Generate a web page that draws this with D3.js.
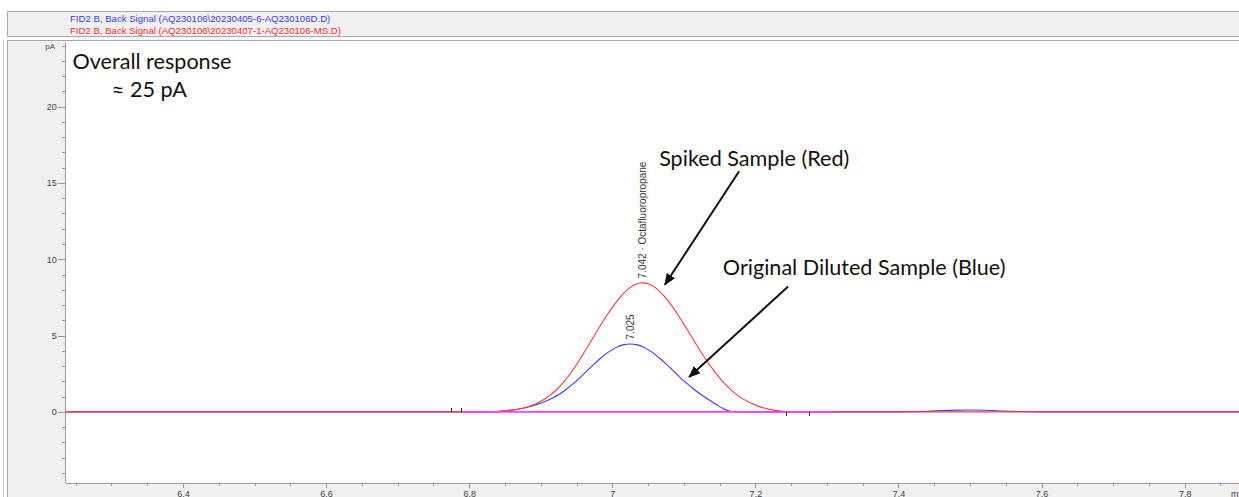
<!DOCTYPE html>
<html>
<head>
<meta charset="utf-8">
<script src="https://cdn.jsdelivr.net/npm/d3@7"></script>
<style>
  body { margin: 0; background: #fff; }
  svg { display: block; }
  .axis path, .axis line { stroke: #9a9a9a; shape-rendering: crispEdges; }
  .axis text { font-family: "Liberation Sans", Arial, sans-serif; font-size: 9px; fill: #444; }
  .legend { font-family: "Liberation Sans", Arial, sans-serif; font-size: 9.6px; }
  .peak-label { font-family: "Liberation Sans", Arial, sans-serif; font-size: 10px; fill: #333; }
  .note { font-family: Lato, "Open Sans", sans-serif; font-size: 21.6px; fill: #111; }
</style>
</head>
<body>
<svg id="chart"></svg>
<script>
// header legend
const legendText = [
  "FID2 B, Back Signal (AQ230106\\20230405-6-AQ230106D.D)",
  "FID2 B, Back Signal (AQ230106\\20230407-1-AQ230106-MS.D)"
];
const legendColor = ["#3b3bff", "#ff2e2e"];

// axis ticks
const xMajorTicks = [6.4, 6.6, 6.8, 7.0, 7.2, 7.4, 7.6, 7.8];
const xTickLabels = ["6.4", "6.6", "6.8", "7", "7.2", "7.4", "7.6", "7.8"];
const yMajorTicks = [0, 5, 10, 15, 20];
const yTickLabels = ["0", "5", "10", "15", "20"];

// blue trace: original diluted sample (min, pA)
const blueTime = [6.236, 6.6, 6.8, 6.835,
  6.845, 6.855, 6.865, 6.875, 6.885, 6.895, 6.905, 6.915, 6.925, 6.935, 6.945,
  6.955, 6.965, 6.975, 6.985, 6.995, 7.005, 7.015, 7.025, 7.035, 7.045, 7.055,
  7.065, 7.075, 7.085, 7.095, 7.105, 7.115, 7.125, 7.135, 7.145, 7.155, 7.165,
  7.18, 7.40, 7.44, 7.47, 7.50, 7.53, 7.56, 7.60, 7.876];
const blueSignal = [0, 0, 0, 0,
  0.06, 0.10, 0.16, 0.24, 0.35, 0.49, 0.67, 0.88, 1.12, 1.45, 1.83,
  2.25, 2.70, 3.15, 3.56, 3.93, 4.21, 4.39, 4.45, 4.39, 4.21, 3.93,
  3.56, 3.15, 2.70, 2.25, 1.83, 1.45, 1.11, 0.80, 0.50, 0.22, 0.04,
  0, 0, 0.03, 0.10, 0.12, 0.09, 0.03, 0, 0];

// red trace: spiked sample (min, pA)
const redTime = [6.236, 6.5, 6.7, 6.82,
  6.832, 6.842, 6.852, 6.862, 6.872, 6.882, 6.892, 6.902, 6.912, 6.922, 6.932,
  6.942, 6.952, 6.962, 6.972, 6.982, 6.992, 7.002, 7.012, 7.022, 7.032, 7.042,
  7.052, 7.062, 7.072, 7.082, 7.092, 7.102, 7.112, 7.122, 7.132, 7.142, 7.152,
  7.162, 7.172, 7.182, 7.192, 7.202, 7.212, 7.222, 7.232,
  7.25, 7.5, 7.7, 7.876];
const redSignal = [0, 0, 0, 0,
  0.02, 0.04, 0.08, 0.13, 0.21, 0.33, 0.50, 0.74, 1.05, 1.45, 1.95,
  2.55, 3.24, 4.00, 4.78, 5.55, 6.30, 6.98, 7.57, 8.04, 8.35, 8.45,
  8.36, 8.08, 7.62, 7.03, 6.35, 5.60, 4.83, 4.07, 3.35, 2.70, 2.12,
  1.62, 1.20, 0.87, 0.61, 0.41, 0.26, 0.15, 0.07,
  0, 0, 0, 0];

// integration baseline and event marks
const baselineTime = [6.791, 7.308];
const baselineSignal = [0, 0];
const eventTime = [6.774, 6.789, 7.2435, 7.275];
const eventSide = [1, 1, -1, -1];

// peak labels
const peakTime = [7.025, 7.042];
const peakHeight = [4.45, 8.45];
const peakLabel = ["7.025", "7.042 \u00b7 Octafluoropropane"];

// annotations (min, pA)
const noteText = ["Overall response", "\u2248 25 pA", "Spiked Sample (Red)", "Original Diluted Sample (Blue)"];
const noteTime = [6.2455, 6.3005, 7.0655, 7.1545];
const noteValue = [22.44, 20.6, 16.14, 8.99];
const arrowFrom = [[7.1773, 15.77], [7.2458, 8.22]];
const arrowTo = [[7.0735, 8.33], [7.1074, 2.28]];

const W = 1239, H = 497;
const plot = { left: 65.7, right: 1239, top: 41, bottom: 482.7 };

const svg = d3.select("#chart").attr("width", W).attr("height", H);

// frames
svg.append("rect").attr("x", 7.5).attr("y", 11.5).attr("width", W).attr("height", 25)
  .attr("fill", "#f0f0f0").attr("stroke", "#a8a8a8");
svg.append("rect").attr("x", 7.5).attr("y", 40.5).attr("width", W).attr("height", H)
  .attr("fill", "#f0f0f0").attr("stroke", "#a8a8a8");
svg.append("line").attr("x1", 3.5).attr("x2", 3.5).attr("y1", 40).attr("y2", H)
  .attr("stroke", "#cfcfcf");
svg.append("rect").attr("x", plot.left).attr("y", plot.top)
  .attr("width", plot.right - plot.left).attr("height", plot.bottom - plot.top)
  .attr("fill", "#fff");

svg.selectAll(".legend").data(legendText).enter().append("text")
  .attr("class", "legend")
  .attr("x", 70).attr("y", (d, i) => 21.5 + i * 12.7)
  .attr("fill", (d, i) => legendColor[i])
  .text(d => d);

const x = d3.scaleLinear().domain([6.236, 7.876]).range([plot.left, plot.right]);
const y = d3.scaleLinear().domain([-4.64, 24.3]).range([plot.bottom, plot.top]);

svg.append("clipPath").attr("id", "clip").append("rect")
  .attr("x", plot.left).attr("y", plot.top)
  .attr("width", plot.right - plot.left).attr("height", plot.bottom - plot.top);

const g = svg.append("g").attr("clip-path", "url(#clip)");

const line = d3.line().x(d => x(d[0])).y(d => y(d[1])).curve(d3.curveMonotoneX);

g.append("path").datum(blueTime.map((t, i) => [t, blueSignal[i]]))
  .attr("d", line).attr("fill", "none").attr("stroke", "#3a3aff").attr("stroke-width", 1.1);
g.append("path").datum(redTime.map((t, i) => [t, redSignal[i]]))
  .attr("d", line).attr("fill", "none").attr("stroke", "#ff3b3b").attr("stroke-width", 1.1);
g.append("path").datum(baselineTime.map((t, i) => [t, baselineSignal[i]]))
  .attr("d", line).attr("fill", "none").attr("stroke", "#ff40ff").attr("stroke-width", 1.6);

g.selectAll(".event").data(eventTime).enter().append("line")
  .attr("class", "event")
  .attr("x1", d => Math.round(x(d)) + 0.5).attr("x2", d => Math.round(x(d)) + 0.5)
  .attr("y1", y(0)).attr("y2", (d, i) => y(0) - eventSide[i] * 4)
  .attr("stroke", "#222");

// axes
const yMinor = d3.range(-4, 25);
svg.append("g").attr("class", "axis").attr("transform", `translate(${plot.left - 0.5},0)`)
  .call(d3.axisLeft(y).tickValues(yMinor).tickSize(3.5).tickSizeOuter(0).tickFormat(""));
svg.append("g").attr("class", "axis").attr("transform", `translate(${plot.left - 0.5},0)`)
  .call(d3.axisLeft(y).tickValues(yMajorTicks).tickSize(7).tickPadding(1.5).tickSizeOuter(0)
    .tickFormat((d, i) => yTickLabels[i]));
svg.append("text").attr("class", "axis").attr("x", 55).attr("y", y(24) + 3)
  .attr("text-anchor", "end")
  .style("font-family", "Liberation Sans, Arial, sans-serif").style("font-size", "8px").style("fill", "#444")
  .text("pA");

const xMinor = d3.range(125, 158).map(d => d / 20);
svg.append("g").attr("class", "axis").attr("transform", `translate(0,${plot.bottom})`)
  .call(d3.axisBottom(x).tickValues(xMinor).tickSize(3).tickSizeOuter(0).tickFormat(""));
const xAxis = svg.append("g").attr("class", "axis").attr("transform", `translate(0,${plot.bottom})`)
  .call(d3.axisBottom(x).tickValues(xMajorTicks).tickSize(5).tickSizeOuter(0)
    .tickFormat((d, i) => xTickLabels[i]));
xAxis.selectAll("text").attr("y", 7.5);
svg.append("text").attr("x", 1231).attr("y", plot.bottom + 7.5).attr("dy", "0.71em")
  .style("font-family", "Liberation Sans, Arial, sans-serif").style("font-size", "9px").style("fill", "#444")
  .text("min");

// peak labels
svg.selectAll(".peak-label").data(peakLabel).enter().append("text")
  .attr("class", "peak-label")
  .attr("transform", (d, i) => `translate(${x(peakTime[i]) + 3.8},${y(peakHeight[i]) - 4.5}) rotate(-90)`)
  .text(d => d);

// annotations
svg.selectAll(".note").data(noteText).enter().append("text")
  .attr("class", "note")
  .attr("x", (d, i) => x(noteTime[i])).attr("y", (d, i) => y(noteValue[i]))
  .text(d => d);

svg.append("defs").append("marker")
  .attr("id", "head").attr("markerUnits", "userSpaceOnUse")
  .attr("viewBox", "0 0 12 10").attr("markerWidth", 12).attr("markerHeight", 10)
  .attr("refX", 11).attr("refY", 5).attr("orient", "auto")
  .append("path").attr("d", "M0,0 L12,5 L0,10 Z").attr("fill", "#111");

svg.selectAll(".arrow").data(arrowFrom).enter().append("line")
  .attr("class", "arrow")
  .attr("x1", d => x(d[0])).attr("y1", d => y(d[1]))
  .attr("x2", (d, i) => x(arrowTo[i][0])).attr("y2", (d, i) => y(arrowTo[i][1]))
  .attr("stroke", "#111").attr("stroke-width", 2)
  .attr("marker-end", "url(#head)");
</script>
</body>
</html>
